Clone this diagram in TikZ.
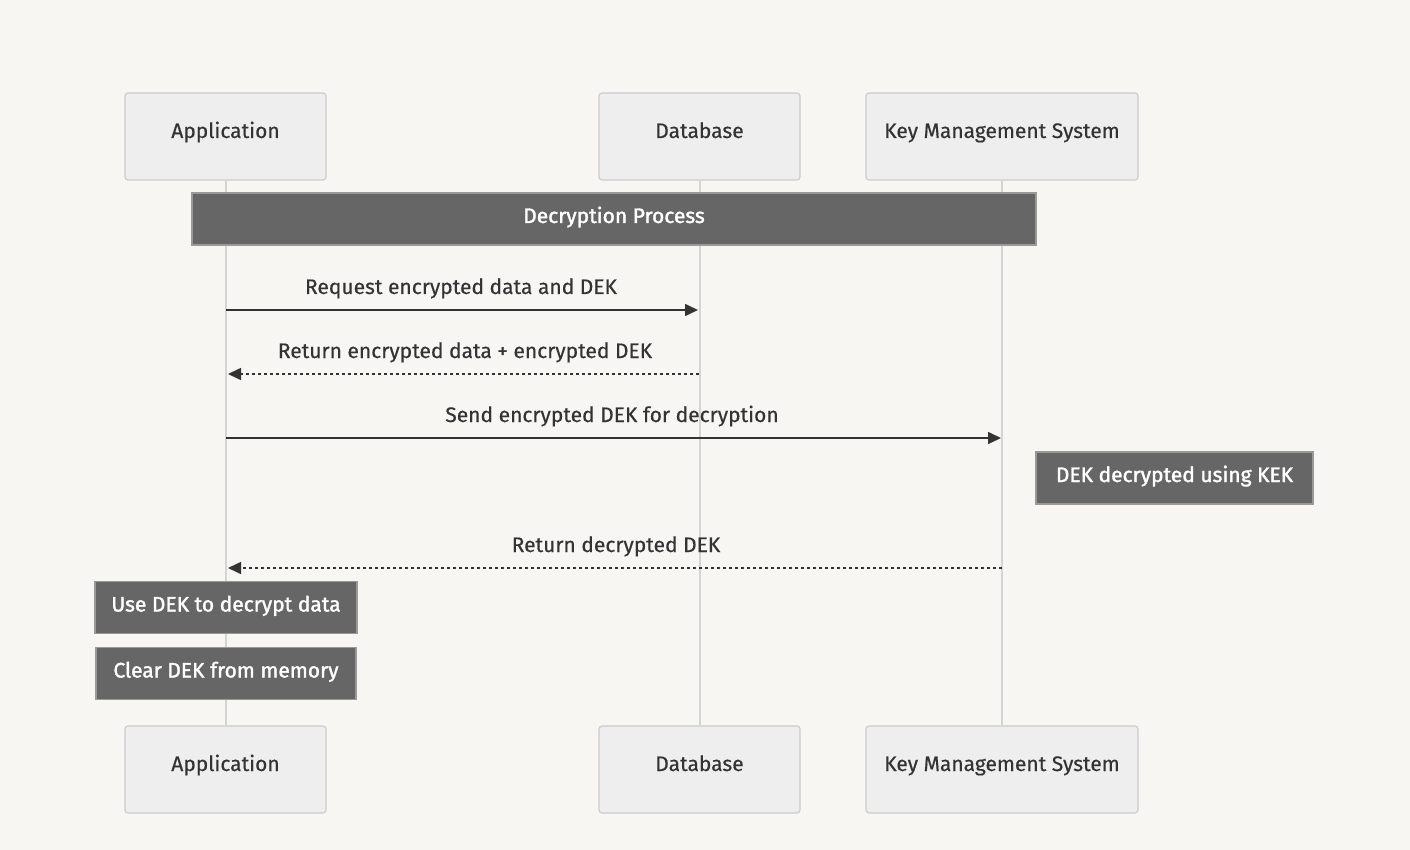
\documentclass[tikz,border=0pt]{standalone}
\usepackage{fontspec}
\setmainfont{Fira Sans}[FakeBold=0.4]
\newfontfamily\notefont{Fira Sans}[FakeBold=1.6]
\usetikzlibrary{arrows.meta}
\definecolor{bg}{HTML}{F7F6F3}
\definecolor{actfill}{HTML}{EEEEEE}
\definecolor{actline}{HTML}{CCCCCC}
\definecolor{lifeline}{HTML}{D4D4D4}
\definecolor{notefill}{HTML}{666666}
\definecolor{noteline}{HTML}{999999}
\definecolor{txt}{HTML}{333333}
\begin{document}
\begin{tikzpicture}[x=1pt,y=-1pt,
  font=\fontsize{21}{25}\selectfont,
  actor/.style={draw=actline, fill=actfill, rounded corners=3pt, line width=1.2pt,
    minimum height=87pt, text=txt, text height=16pt, text depth=13pt, inner sep=0pt},
  note/.style={draw=noteline, fill=notefill, line width=1.2pt, text=white,
    font=\notefont\fontsize{21}{25}\selectfont,
    minimum height=52pt, text height=18pt, text depth=10pt, inner sep=0pt},
  life/.style={draw=lifeline, line width=2pt},
  msg/.style={draw=txt, line width=1.6pt, -{Triangle[length=13pt,width=12pt]}},
  ret/.style={msg, dash pattern=on 3pt off 3pt},
  lbl/.style={text=txt, inner sep=0pt, anchor=base}
]
\fill[bg] (0,0) rectangle (1410,850);
\useasboundingbox (0,0) rectangle (1410,850);

% actors
\node[actor, minimum width=201pt] (app)  at (225.5,136.5) {Application};
\node[actor, minimum width=201pt] (db)   at (699.5,136.5) {Database};
\node[actor, minimum width=272pt] (kms)  at (1002,136.5) {Key Management System};
\node[actor, minimum width=201pt] (app2) at (225.5,769.5) {Application};
\node[actor, minimum width=201pt] (db2)  at (699.5,769.5) {Database};
\node[actor, minimum width=272pt] (kms2) at (1002,769.5) {Key Management System};

% lifelines
\draw[life] (app.south) -- (app2.north);
\draw[life] (db.south) -- (db2.north);
\draw[life] (kms.south) -- (kms2.north);

% decryption process note
\node[note, minimum width=844pt] (proc) at (614,219) {Decryption Process};

% message coordinates
\coordinate (a1) at (226,310); \coordinate (d1) at (698,310);
\coordinate (a2) at (228,374); \coordinate (d2) at (699,374);
\coordinate (a3) at (226,438); \coordinate (k3) at (1001,438);
\coordinate (a4) at (228,568); \coordinate (k4) at (1002,568);

\draw[msg] (a1) -- (d1);
\node[lbl] (l1) at (461,294) {Request encrypted data and DEK};
\draw[ret] (d2) -- (a2);
\node[lbl] (l2) at (465,358) {Return encrypted data + encrypted DEK};
\draw[msg] (a3) -- (k3);
\node[lbl] (l3) at (612,422) {Send encrypted DEK for decryption};

\node[note, minimum width=277pt] (n1) at (1174.5,478) {DEK decrypted using KEK};

\draw[ret] (k4) -- (a4);
\node[lbl] (l4) at (616,552) {Return decrypted DEK};

\node[note, minimum width=262pt] (n2) at (226,607.5) {Use DEK to decrypt data};
\node[note, minimum width=260pt] (n3) at (226,673.5) {Clear DEK from memory};
\end{tikzpicture}
\end{document}
